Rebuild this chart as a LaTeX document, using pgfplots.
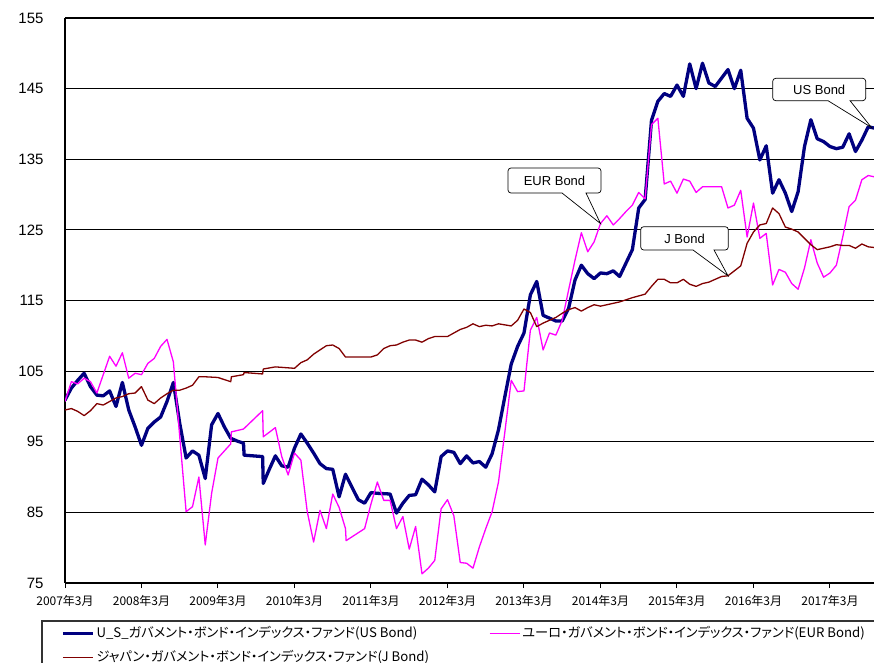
\documentclass[border=0pt]{standalone}
\usepackage{fontspec}
\setmainfont{Noto Sans CJK JP}
\newfontfamily\jpp[RawFeature=+palt]{Noto Sans CJK JP}
\newfontfamily\arial{Liberation Sans}
\usepackage{pgfplots}
\pgfplotsset{compat=1.18}
\definecolor{usnavy}{RGB}{0,0,128}
\definecolor{eurpink}{RGB}{255,0,255}
\definecolor{jmaroon}{RGB}{128,0,0}
\begin{document}
\begin{tikzpicture}
\begin{axis}[
  at={(65pt,79pt)}, anchor=south west,
  scale only axis, width=809.6pt, height=565pt,
  xmin=0, xmax=127, ymin=75, ymax=155,
  axis x line*=bottom, axis y line*=left,
  axis line style={black, line width=1.6pt},
  xtick={0,12,24,36,48,60,72,84,96,108,120},
  xticklabels={2007年3月,2008年3月,2009年3月,2010年3月,2011年3月,2012年3月,2013年3月,2014年3月,2015年3月,2016年3月,2017年3月},
  ytick={75,85,95,105,115,125,135,145,155},
  ymajorgrids, grid style={black, line width=1.1pt},
  tick align=outside, major tick length=5pt,
  x tick style={black, line width=1pt},
  y tick style={draw=none},
  /pgf/number format/assume math mode=true,
  xticklabel style={font=\fontsize{12}{14}\selectfont, yshift=-4pt},
  yticklabel style={font=\arial\fontsize{15}{17}\selectfont, xshift=-13pt},
  legend columns=2,
  legend style={draw=none, fill=none, at={(axis description cs:-0.0086,-0.071)}, anchor=north west,
    font=\jpp\fontsize{13.2}{15}\selectfont, row sep=7pt,
    nodes={inner sep=2pt, text height=10pt, text depth=3pt},
    /tikz/every even column/.append style={column sep=58pt}},
  legend cell align=left,
  legend image code/.code={\draw[#1] (0pt,0pt) -- (30pt,0pt);},
]
\addplot[usnavy, line width=3.3pt, line join=round] coordinates {
(0,100.9)(1,102.6)(2,103.7)(3,104.7)(4,102.8)(5,101.6)(6,101.5)(7,102.2)(8,100.0)(9,103.4)
(10,99.5)(11,97.1)(12,94.5)(13,96.9)(14,97.8)(15,98.5)(16,100.7)(17,103.4)(18,97.6)(19,92.7)
(20,93.7)(21,93.1)(22,89.8)(23,97.4)(24,99.0)(25,97.1)(26,95.5)(27,95.1)(28,94.8)(28.1,93.1)
(31,92.9)(31.1,89.1)(32,91.0)(33,93.0)(34,91.6)(35,91.4)(36,94.1)(37,96.1)(38,94.8)(39,93.4)
(40,91.9)(41,91.2)(42,91.1)(43,87.2)(44,90.4)(45,88.6)(46,86.8)(47,86.3)(48,87.8)(49,87.7)
(51,87.6)(52,84.9)(53,86.3)(54,87.4)(55,87.5)(56,89.7)(57,88.9)(58,87.9)(59,92.9)
(60,93.7)(61,93.5)(62,91.9)(63,93.0)(64,92.0)(65,92.2)(66,91.4)(67,93.3)(68,96.7)(69,101.4)
(70,106.0)(71,108.5)(72,110.4)(73,115.8)(74,117.7)(75,112.9)(76,112.5)(77,112.1)(78,112.1)(79,113.9)
(80,117.9)(81,120.0)(82,118.8)(83,118.1)(84,118.9)(85,118.8)(86,119.2)(87,118.4)(88,120.3)(89,122.2)
(90,128.1)(91,129.3)(92,140.5)(93,143.2)(94,144.3)(95,143.9)(96,145.5)(97,143.9)(98,148.5)(99,145.0)
(100,148.6)(101,145.8)(102,145.3)(103,146.5)(104,147.7)(105,145.0)(106,147.6)(107,140.8)(108,139.4)(109,134.9)
(110,136.9)(111,130.2)(112,132.1)(113,130.2)(114,127.6)(115,130.4)(116,136.8)(117,140.6)(118,137.9)(119,137.5)
(120,136.8)(121,136.5)(122,136.7)(123,138.6)(124,136.1)(125,137.7)(126,139.6)(127,139.4)
};
\addlegendentry{U\_S\_ガバメント・ボンド・インデックス・ファンド(US Bond)}
\addplot[eurpink, line width=1.3pt, line join=round] coordinates {
(0,100.7)(1,103.5)(2,103.2)(3,104.0)(4,103.5)(5,101.9)(6,104.5)(7,107.1)(8,105.7)(9,107.6)
(10,104.0)(11,104.7)(12,104.5)(13,106.1)(14,106.8)(15,108.5)(16,109.5)(17,106.3)(19,85.1)
(20,85.8)(21,90.0)(22,80.4)(23,87.7)(24,92.7)(25,93.7)(26,94.7)(26.1,96.4)(28,96.8)
(31,99.4)(31.1,95.7)(33,97.0)(34,92.9)(35,90.3)(36,93.4)(37,92.4)(38,85.1)(39,80.8)
(40,85.3)(41,82.7)(42,87.6)(43,85.7)(44,82.7)(44.1,81.0)(47,82.7)(48,86.2)(49,89.3)
(50,86.7)(51,86.7)(52,82.7)(53,84.4)(54,79.8)(55,83.0)(56,76.3)(57,77.1)(58,78.2)(59,85.5)
(60,86.8)(61,84.5)(62,77.9)(63,77.8)(64,77.1)(65,80.1)(66,82.7)(67,85.1)(68,89.3)(69,96.4)
(70,103.7)(71,102.1)(72,102.2)(73,110.8)(74,112.6)(75,108.0)(76,110.4)(77,110.1)(78,112.2)(79,116.5)
(80,120.7)(81,124.6)(82,121.9)(83,123.3)(84,125.9)(85,127.0)(86,125.7)(87,126.6)(88,127.6)(89,128.5)
(90,130.3)(91,129.4)(92,139.9)(93,140.8)(94,131.5)(95,131.9)(96,130.2)(97,132.2)(98,131.9)(99,130.3)
(100,131.1)(103,131.1)(104,128.1)(105,128.5)(106,130.6)(107,124.0)(108,128.8)(109,123.8)
(110,124.5)(111,117.2)(112,119.4)(113,119.0)(114,117.4)(115,116.6)(116,119.6)(117,123.6)(118,120.3)(119,118.3)
(120,118.9)(121,120.0)(122,124.0)(123,128.3)(124,129.2)(125,132.1)(126,132.7)(127,132.5)
};
\addlegendentry{ユーロ・ガバメント・ボンド・インデックス・ファンド(EUR Bond)}
\addplot[jmaroon, line width=1.3pt, line join=round] coordinates {
(0,99.5)(1,99.7)(2,99.3)(3,98.7)(4,99.4)(5,100.4)(6,100.2)(7,100.7)(8,101.2)(9,101.4)
(10,101.8)(11,101.9)(12,102.8)(13,100.9)(14,100.4)(15,101.2)(16,101.8)(17,102.3)(18,102.3)(19,102.6)
(20,103.0)(21,104.2)(22,104.2)(24,104.1)(26,103.5)(26.1,104.2)(28,104.5)(28.1,104.8)
(31,104.6)(31.1,105.3)(33,105.6)(36,105.4)(37,106.2)(38,106.6)(39,107.4)
(40,108.0)(41,108.6)(42,108.7)(43,108.2)(44,107.0)(47,107.0)(48,107.0)(49,107.3)
(50,108.2)(51,108.6)(52,108.7)(53,109.1)(54,109.4)(55,109.4)(56,109.1)(57,109.6)(58,109.9)
(60,109.9)(61,110.4)(62,110.9)(63,111.2)(64,111.7)(65,111.3)(66,111.5)(67,111.4)(68,111.7)
(70,111.4)(71,112.2)(72,113.8)(73,113.3)(74,111.3)(75,111.8)(76,112.2)(77,112.6)(78,113.2)(79,113.7)
(80,114.0)(81,113.5)(82,114.0)(83,114.4)(84,114.2)(85,114.4)(87,114.8)(89,115.4)
(91,115.9)(92,117.0)(93,118.0)(94,118.0)(95,117.5)(96,117.5)(97,118.0)(98,117.3)(99,117.0)
(100,117.4)(101,117.6)(102,118.0)(103,118.4)(104,118.5)(105,119.2)(106,119.9)(107,123.1)(108,124.7)(109,125.7)
(110,125.9)(111,128.1)(112,127.3)(113,125.4)(114,125.1)(115,124.7)(116,123.8)(117,122.9)(118,122.2)(119,122.4)
(120,122.6)(121,122.9)(122,122.8)(123,122.8)(124,122.4)(125,123.0)(126,122.6)(127,122.5)
};
\addlegendentry{ジャパン・ガバメント・ボンド・インデックス・ファンド(J Bond)}
\coordinate (eurtip) at (axis cs:84,125.9);
\coordinate (jtip) at (axis cs:104,118.5);
\coordinate (ustip) at (axis cs:126.5,139.5);
\end{axis}
% callouts
\draw[black, line width=0.7pt, fill=white] (562pt,469pt) -- (eurtip) -- (586pt,469pt) [rounded corners=3pt] -- (601pt,469pt) -- (601pt,494pt) -- (508pt,494pt) -- (508pt,469pt) [sharp corners] -- cycle;
\node[font=\arial\fontsize{13}{15}\selectfont] at (554.5pt,481.5pt) {EUR Bond};
\draw[black, line width=0.7pt, fill=white] (693pt,412pt) -- (jtip) -- (714pt,412pt) [rounded corners=3pt] -- (728.3pt,412pt) -- (728.3pt,435.3pt) -- (640.7pt,435.3pt) -- (640.7pt,412pt) [sharp corners] -- cycle;
\node[font=\arial\fontsize{13}{15}\selectfont] at (684.5pt,423.6pt) {J Bond};
\draw[black, line width=0.7pt, fill=white] (828pt,561.3pt) -- (ustip) -- (850pt,561.3pt) [rounded corners=3pt] -- (865.7pt,561.3pt) -- (865.7pt,583.7pt) -- (772.7pt,583.7pt) -- (772.7pt,561.3pt) [sharp corners] -- cycle;
\node[font=\arial\fontsize{13}{15}\selectfont] at (819.2pt,572.5pt) {US Bond};
% legend frame
\draw[black!80, line width=1.2pt] (42pt,-20pt) rectangle (920pt,41pt);
\pgfresetboundingbox
\path[use as bounding box] (0pt,0pt) rectangle (874pt,662pt);
\end{tikzpicture}
\end{document}
